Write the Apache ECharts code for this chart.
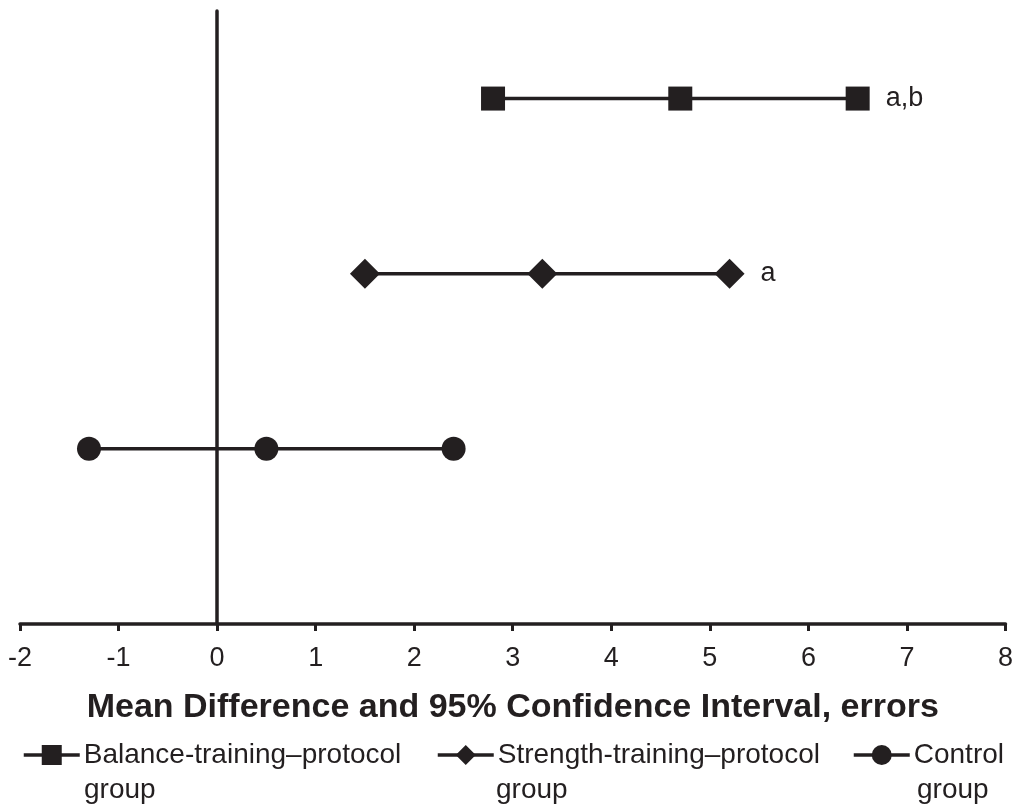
<!DOCTYPE html>
<html>
<head>
<meta charset="utf-8">
<script src="https://cdn.jsdelivr.net/npm/echarts@6/dist/echarts.min.js"></script>
<style>
  html, body { margin: 0; padding: 0; background: #fff; }
  #chart { width: 1016px; height: 805px; }
</style>
</head>
<body>
<div id="chart"></div>
<script>
// rows on the (hidden) y axis, top to bottom
const groupNames = ['Balance-training–protocol', 'Strength-training–protocol', 'Control']
const groupRows = [3, 2, 1]
// lower CI, mean, upper CI
const balanceValues = [2.8, 4.7, 6.5]
const strengthValues = [1.5, 3.3, 5.2]
const controlValues = [-1.3, 0.5, 2.4]
const sigLabels = ['a,b', 'a', '']
const xTicks = [-2, -1, 0, 1, 2, 3, 4, 5, 6, 7, 8]

const ink = '#231f20'
const font = 'Liberation Sans, Arial, sans-serif'

function toPoints(values, row, label) {
  return values.map((v, i) => ({
    value: [v, row],
    label: i === values.length - 1 && label ? { show: true, formatter: label } : { show: false }
  }))
}

function makeSeries(name, values, row, label, symbol, size) {
  return {
    name: name,
    type: 'line',
    data: toPoints(values, row, label),
    symbol: symbol,
    symbolSize: size,
    showAllSymbol: true,
    lineStyle: { color: ink, width: 3.5 },
    itemStyle: { color: ink, opacity: 1 },
    label: {
      position: 'right',
      distance: 16,
      color: ink,
      fontFamily: font,
      fontSize: 27
    },
    emphasis: { disabled: true },
    animation: false
  }
}

function legendAt(name, left) {
  return {
    data: [name],
    left: left,
    top: 741,
    padding: 0,
    itemWidth: 56,
    itemHeight: 25,
    itemGap: 0,
    selectedMode: false,
    lineStyle: { width: 3.5 },
    textStyle: { color: ink, fontFamily: font, fontSize: 28, padding: [0, 0, 0, -1] }
  }
}

function groupText(left) {
  return { type: 'text', left: left, top: 776, style: { text: 'group', fill: ink, font: '28px ' + font } }
}

const chart = echarts.init(document.getElementById('chart'))
chart.setOption({
  animation: false,
  grid: { left: 20, right: 9, top: 11, bottom: 181 },
  xAxis: {
    type: 'value',
    min: -2,
    max: 8,
    interval: 1,
    name: 'Mean Difference and 95% Confidence Interval, errors',
    nameLocation: 'middle',
    nameGap: 67,
    nameTextStyle: { color: ink, fontFamily: font, fontSize: 34, fontWeight: 'bold' },
    axisLine: { onZero: false, lineStyle: { color: ink, width: 3.5 } },
    axisTick: { inside: false, length: 7, lineStyle: { color: ink, width: 3 } },
    axisLabel: {
      color: ink,
      fontFamily: font,
      fontSize: 27,
      margin: 21,
      formatter: v => (xTicks.indexOf(v) >= 0 ? String(v) : '')
    },
    splitLine: { show: false }
  },
  yAxis: {
    type: 'value',
    min: 0,
    max: 3.5,
    axisLine: { show: true, onZero: true, lineStyle: { color: ink, width: 3.5 } },
    axisTick: { show: false },
    axisLabel: { show: false },
    splitLine: { show: false }
  },
  legend: [
    legendAt(groupNames[0], 22),
    legendAt(groupNames[1], 436),
    legendAt(groupNames[2], 852)
  ],
  graphic: [groupText(84), groupText(496), groupText(917)],
  series: [
    makeSeries(groupNames[0], balanceValues, groupRows[0], sigLabels[0], 'rect', 24),
    makeSeries(groupNames[1], strengthValues, groupRows[1], sigLabels[1], 'diamond', 30),
    makeSeries(groupNames[2], controlValues, groupRows[2], sigLabels[2], 'circle', 24)
  ]
})
</script>
</body>
</html>
